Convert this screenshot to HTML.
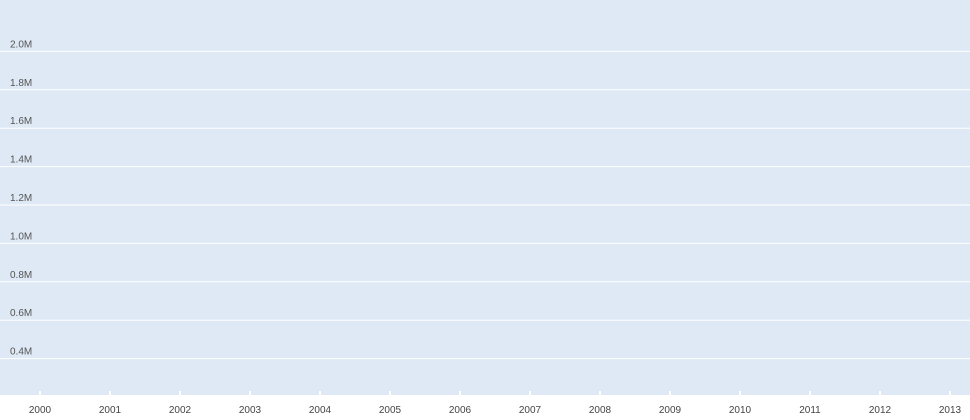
<!DOCTYPE html>
<html><head><meta charset="utf-8"><style>
html,body{margin:0;padding:0;background:#fff;}
svg{display:block;font-family:"Liberation Sans",sans-serif;}
</style></head><body>
<svg id="chart" width="970" height="420" xmlns="http://www.w3.org/2000/svg">
<rect x="0" y="0" width="970" height="395" fill="#dee9f5"/>
<g id="grid"></g><g id="xaxis"></g>
</svg>
<script>
const yTicks=[0.4,0.6,0.8,1.0,1.2,1.4,1.6,1.8,2.0];
const yTickLabels=["0.4M","0.6M","0.8M","1.0M","1.2M","1.4M","1.6M","1.8M","2.0M"];
const categories=["2000","2001","2002","2003","2004","2005","2006","2007","2008","2009","2010","2011","2012","2013"];
const NS="http://www.w3.org/2000/svg";
function y(v){return 397-(v-0.2)/0.2*38.4;}
function x(i){return 40+i*70;}
const grid=document.getElementById('grid'),xa=document.getElementById('xaxis');
yTicks.forEach((v,i)=>{
 const l=document.createElementNS(NS,'line');
 
 
 l.setAttribute('x1',0);l.setAttribute('x2',970);l.setAttribute('y1',y(v));l.setAttribute('y2',y(v));
 l.setAttribute('stroke','#fff');l.setAttribute('stroke-width','1');
 grid.appendChild(l);
 const t=document.createElementNS(NS,'text');
 
 
 t.setAttribute('x',10);t.setAttribute('y',y(v)-4);t.setAttribute('font-size','10');t.setAttribute('fill','#555');
 t.textContent=yTickLabels[i];grid.appendChild(t);
});
categories.forEach((c,i)=>{
 const l=document.createElementNS(NS,'line');
 
 
 l.setAttribute('x1',x(i));l.setAttribute('x2',x(i));l.setAttribute('y1',391);l.setAttribute('y2',395);
 l.setAttribute('stroke','#fff');l.setAttribute('stroke-width','2');
 xa.appendChild(l);
 const t=document.createElementNS(NS,'text');
 
 
 t.setAttribute('x',x(i));t.setAttribute('y',413);t.setAttribute('font-size','10');t.setAttribute('fill','#444');t.setAttribute('text-anchor','middle');
 t.textContent=c;xa.appendChild(t);
});
</script>
</body></html>
